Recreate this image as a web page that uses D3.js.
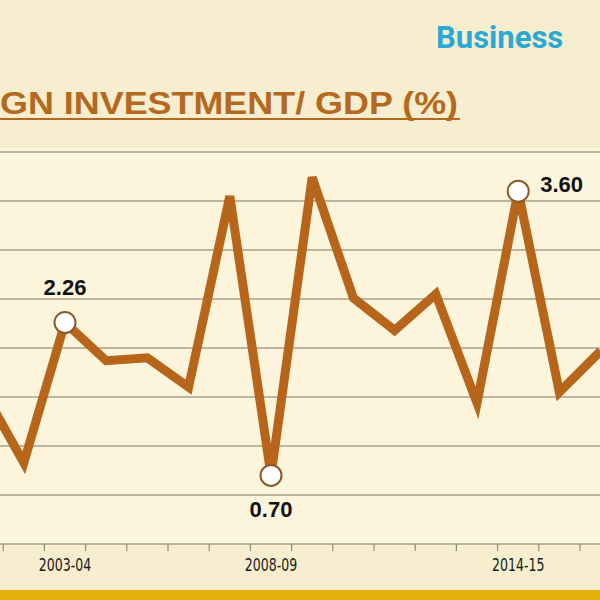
<!DOCTYPE html>
<html><head><meta charset="utf-8">
<script src="https://cdn.jsdelivr.net/npm/d3@7"></script>
<style>body{margin:0;background:#f7eecf}svg{display:block}</style>
</head><body><div id="chart"></div>
<script>
// foreign investment / GDP (%), fiscal years
const years = ["2001-02","2002-03","2003-04","2004-05","2005-06","2006-07","2007-08","2008-09",
  "2009-10","2010-11","2011-12","2012-13","2013-14","2014-15","2015-16","2016-17"];
const values = [1.58,0.83,2.26,1.87,1.90,1.60,3.55,0.70,3.74,2.51,2.18,2.55,1.44,3.60,1.55,1.97];
const labelled = {"2003-04":"2.26","2008-09":"0.70","2014-15":"3.60"};
const tickLabels = ["2003-04","2008-09","2014-15"];
const gridValues = [0.5,1,1.5,2,2.5,3,3.5,4];

const W = 600, H = 600;
const svg = d3.select("#chart").append("svg").attr("width", W).attr("height", H);

svg.append("rect").attr("width", W).attr("height", H).attr("fill", "#f7eecf");
svg.append("rect").attr("x", 0).attr("y", 148).attr("width", W).attr("height", 396).attr("fill", "#fcf5dc");

const x = d3.scaleLinear().domain([2, 15]).range([65, 600.6]);
const y = d3.scaleLinear().domain([0, 4]).range([544, 152]);

svg.append("text").attr("x", 436).attr("y", 48)
  .attr("font-family", "Roboto, Liberation Sans, sans-serif").attr("font-weight", 700)
  .attr("font-size", 31).attr("fill", "#2aa8d6").text("Business");

svg.append("text").attr("x", 0).attr("y", 114)
  .attr("font-family", "Liberation Sans, Arial, sans-serif").attr("font-weight", 700)
  .attr("font-size", 32).attr("fill", "#b5691f")
  .attr("textLength", 458).attr("lengthAdjust", "spacingAndGlyphs")
  .text("GN INVESTMENT/ GDP (%)");
svg.append("line").attr("x1", 0).attr("x2", 460).attr("y1", 119).attr("y2", 119)
  .attr("stroke", "#b5691f").attr("stroke-width", 2);

svg.selectAll(".grid").data(gridValues).enter().append("line")
  .attr("x1", 0).attr("x2", W).attr("y1", d => y(d)).attr("y2", d => y(d))
  .attr("stroke", "#a9a28c").attr("stroke-width", 1.5);

// x axis baseline and year ticks (boundaries between years)
svg.append("line").attr("x1", 0).attr("x2", W).attr("y1", y(0)).attr("y2", y(0))
  .attr("stroke", "#a9a28c").attr("stroke-width", 1.5);
svg.selectAll(".tick").data(d3.range(years.length + 1)).enter().append("line")
  .attr("x1", i => x(i - 0.5)).attr("x2", i => x(i - 0.5))
  .attr("y1", y(0)).attr("y2", y(0) + 7)
  .attr("stroke", "#8f8a78").attr("stroke-width", 1.2);
svg.selectAll(".xl").data(tickLabels).enter().append("text")
  .attr("x", d => x(years.indexOf(d))).attr("y", 571).attr("text-anchor", "middle")
  .attr("font-family", "DejaVu Sans Condensed, Liberation Sans, sans-serif")
  .attr("font-size", 17).attr("fill", "#1a1a1a").attr("transform", d => {
    const cx = x(years.indexOf(d));
    return `translate(${cx},0) scale(0.82,1) translate(${-cx},0)`;
  }).text(d => d);

const line = d3.line().x((d, i) => x(i)).y(d => y(d));
svg.append("path").datum(values).attr("d", line)
  .attr("fill", "none").attr("stroke", "#b8651c").attr("stroke-width", 9)
  .attr("stroke-linejoin", "miter");

const pts = years.map((yr, i) => ({yr, i, v: values[i]})).filter(d => labelled[d.yr]);
svg.selectAll(".dot").data(pts).enter().append("circle")
  .attr("cx", d => x(d.i)).attr("cy", d => y(d.v)).attr("r", 10.5)
  .attr("fill", "#fff").attr("stroke", "#8a5a2a").attr("stroke-width", 2);
svg.selectAll(".vl").data(pts).enter().append("text")
  .attr("x", d => d.yr === "2014-15" ? x(d.i) + 22 : x(d.i))
  .attr("y", d => d.yr === "2008-09" ? y(d.v) + 42 : d.yr === "2014-15" ? y(d.v) + 1 : y(d.v) - 28)
  .attr("text-anchor", d => d.yr === "2014-15" ? "start" : "middle")
  .attr("font-family", "Liberation Sans, Arial, sans-serif").attr("font-weight", 700)
  .attr("font-size", 22).attr("fill", "#111").text(d => labelled[d.yr]);

svg.append("rect").attr("x", 0).attr("y", 590).attr("width", W).attr("height", 10).attr("fill", "#e6b10a");
</script></body></html>
